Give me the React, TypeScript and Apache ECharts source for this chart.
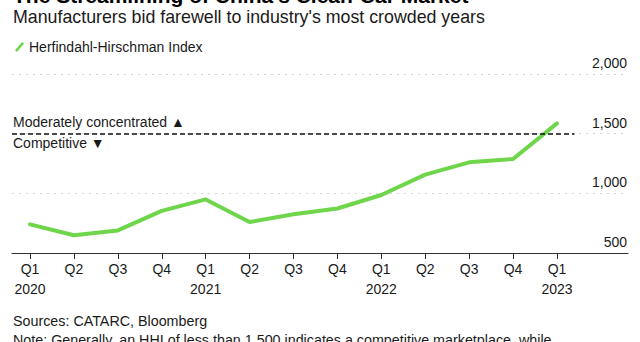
import React, { useEffect, useRef } from "react";
import * as echarts from "echarts";

const quarters = ["Q1\n2020", "Q2", "Q3", "Q4", "Q1\n2021", "Q2", "Q3", "Q4", "Q1\n2022", "Q2", "Q3", "Q4", "Q1\n2023"];
const hhiValues = [740, 649, 689, 853, 949, 759, 825, 873, 986, 1157, 1260, 1288, 1586];
const yTicks = [500, 1000, 1500, 2000];
const threshold = 1500;
const seriesName = "Herfindahl-Hirschman Index";

const FONT = "'Liberation Sans', Arial, sans-serif";
const GREEN = "#6fd64b";
const TEXT = "#1a1a1a";

export default function App() {
  const ref = useRef<HTMLDivElement>(null);
  useEffect(() => {
    if (!ref.current) return;
    const chart = echarts.init(ref.current, null, { renderer: "svg" });
    const idx = quarters.map((_, i) => i);
    chart.setOption({
      animation: false,
      backgroundColor: "#ffffff",
      textStyle: { fontFamily: FONT },
      grid: { left: 12, right: 12, top: 74, bottom: 89 },
      legend: {
        left: 10,
        top: 35,
        icon: "path://M0,9 L8,0 L10,2 L2,11 Z",
        itemWidth: 9,
        itemHeight: 11,
        itemGap: 10,
        textStyle: { fontFamily: FONT, fontSize: 14, color: TEXT },
        data: [seriesName],
      },
      xAxis: {
        type: "value",
        min: -0.41,
        max: 13.617,
        axisLine: { show: true, lineStyle: { color: "#333", width: 1 } },
        axisTick: { show: true, customValues: idx, length: 6, lineStyle: { color: "#333" } },
        axisLabel: {
          customValues: idx,
          formatter: (v: number) => quarters[Math.round(v)] ?? "",
          color: TEXT,
          fontSize: 14,
          fontFamily: FONT,
          lineHeight: 20,
          margin: 6,
        },
        splitLine: { show: false },
      },
      yAxis: {
        type: "value",
        position: "right",
        min: yTicks[0],
        max: yTicks[yTicks.length - 1],
        interval: 500,
        axisLine: { show: false },
        axisTick: { show: false },
        axisLabel: {
          inside: true,
          margin: 1,
          verticalAlign: "bottom",
          padding: [0, 0, 4, 0],
          color: TEXT,
          fontSize: 14,
          fontFamily: FONT,
          formatter: (v: number) => v.toLocaleString("en-US"),
        },
        splitLine: { show: true, lineStyle: { color: "#d6d6d6", type: [2, 5], width: 1 } },
      },
      series: [
        {
          name: seriesName,
          type: "line",
          data: hhiValues.map((v, i) => [i, v]),
          symbol: "none",
          lineStyle: { color: GREEN, width: 4, cap: "round", join: "round" },
          itemStyle: { color: GREEN },
          markLine: {
            silent: true,
            symbol: "none",
            label: { show: false },
            lineStyle: { color: "#111", type: [5, 3], width: 1.5 },
            data: [[{ coord: [-0.41, threshold] }, { coord: [12.4, threshold] }]],
          },
        },
      ],
      graphic: [
        {
          type: "text",
          left: 13,
          top: -15,
          style: { text: "The Streamlining of China's Clean-Car Market", font: `bold 21px ${FONT}`, fill: "#000" },
        },
        {
          type: "text",
          left: 13,
          top: 8,
          style: { text: "Manufacturers bid farewell to industry's most crowded years", font: `17.8px ${FONT}`, fill: TEXT },
        },
        {
          type: "text",
          left: 13,
          top: 115,
          style: { text: "Moderately concentrated ▲", font: `14px ${FONT}`, fill: TEXT },
        },
        {
          type: "text",
          left: 13,
          top: 136,
          style: { text: "Competitive ▼", font: `14px ${FONT}`, fill: TEXT },
        },
        {
          type: "text",
          left: 13,
          top: 314,
          style: { text: "Sources: CATARC, Bloomberg", font: `14.3px ${FONT}`, fill: TEXT },
        },
        {
          type: "text",
          left: 13,
          top: 333,
          style: {
            text: "Note: Generally, an HHI of less than 1,500 indicates a competitive marketplace, while",
            font: `14.3px ${FONT}`,
            fill: TEXT,
          },
        },
      ],
    });
    return () => chart.dispose();
  }, []);
  return <div ref={ref} style={{ width: 640, height: 342, position: "fixed", left: 0, top: 0 }} />;
}
